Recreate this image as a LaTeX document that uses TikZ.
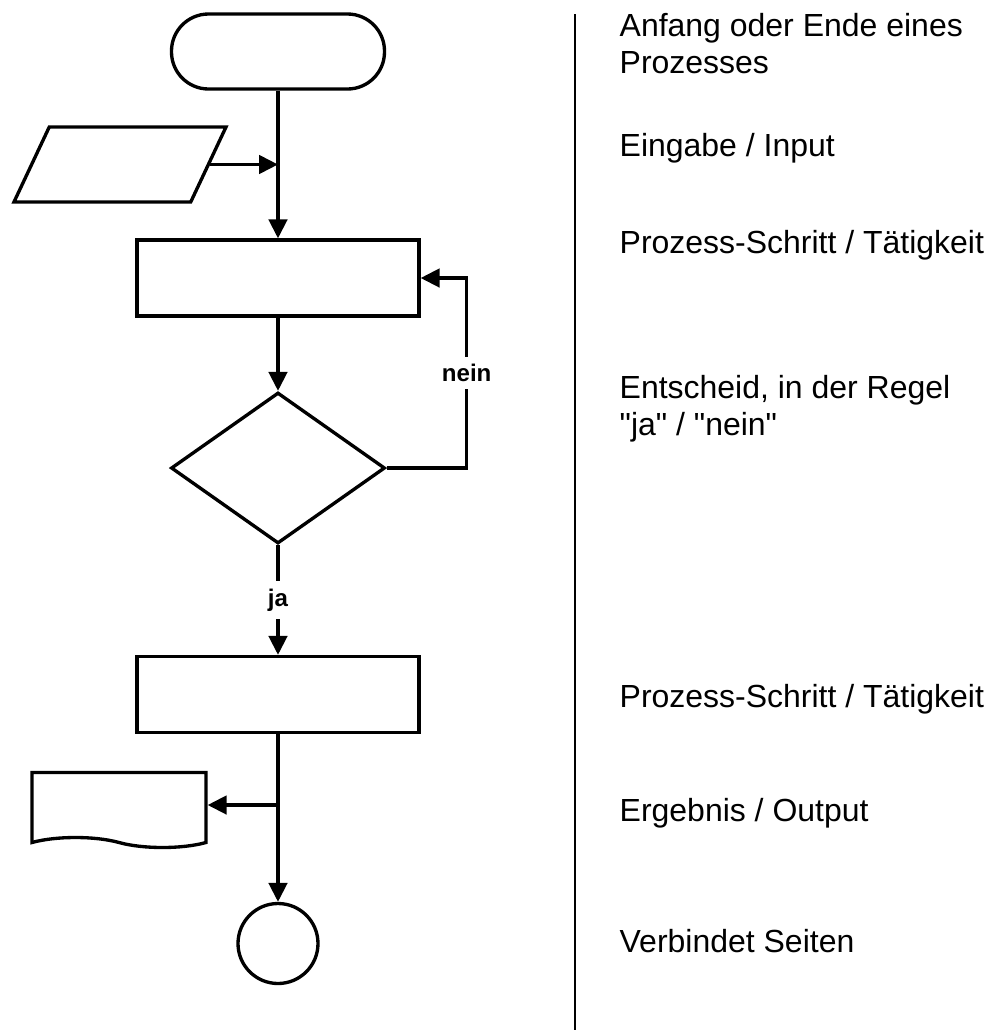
\documentclass[tikz,border=0pt]{standalone}
\usepackage{fontspec}
\setmainfont{Liberation Sans}
\usetikzlibrary{arrows.meta, positioning, shapes.geometric, shapes.symbols}

\begin{document}
\begin{tikzpicture} [line width=1.9pt,
                on grid,
                flow/.style = {-{Triangle[length=0.38cm, width=0.37cm]}},
                startstop/.style = {draw, rectangle, rounded corners=0.74cm,
                    minimum width=4.26cm, minimum height=1.5cm},
                io/.style = {draw, trapezium, trapezium left angle=76,
                    trapezium right angle=104, trapezium stretches=true,
                    minimum width=4.24cm, minimum height=1.5cm},
                process/.style = {draw, rectangle,
                    minimum width=5.64cm, minimum height=1.52cm},
                decision/.style = {draw, diamond, inner sep=0pt,
                    minimum width=4.28cm, minimum height=3.02cm},
                document/.style = {draw, tape, tape bend top=none,
                    tape bend bottom=out and in, tape bend height=0.2cm,
                    minimum width=3.48cm, minimum height=1.5cm},
                connector/.style = {draw, circle, minimum size=1.6cm},
                answer/.style = {fill=white, inner sep=0.15cm,
                    font=\fontsize{13.7pt}{16pt}\selectfont\bfseries},
                legend/.style = {anchor=base west, align=left, inner sep=0pt,
                    font=\fontsize{18.2pt}{20.5pt}\selectfont}]

            \useasboundingbox (0,0) rectangle (19.82,-20.6);

            % Start
            \node (start) [startstop] at (5.56,-1.03) {};

            % Input
            \node (input) [io,
                below left = 2.26cm and 3.16cm of start] {};

            % Process step 1
            \node (proc1) [process,
                below = 4.53cm of start] {};

            % Decision
            \node (dec) [decision,
                below = 3.8cm of proc1] {};

            % Process step 2
            \node (proc2) [process,
                below = 4.53cm of dec] {};

            % Output
            \node (output) [document,
                below left = 2.21cm and 3.18cm of proc2] {};

            % Connector
            \node (conn) [connector,
                below = 4.98cm of proc2] {};

            % Arrows
            \draw [flow] (start) -- (proc1);
            \draw [flow] (input.east) -- (input.east -| start.south);
            \draw [flow] (proc1) -- (dec);
            \draw [flow] (dec.east) -- ++(1.6,0)
                |- node[pos=0.25, answer] {nein} (proc1.east);
            \draw [flow] (dec) -- node[answer] {ja} (proc2);
            \draw [flow] (proc2) -- (conn);
            \draw [flow] (proc2.south |- output.east) -- (output.east);

            % Separator
            \coordinate (sepTop) at (11.5,-0.28);
            \coordinate (sepBot) at (11.5,-20.6);
            \draw [line width=0.75pt] (sepTop) -- (sepBot);

            % Legend
            \node (lgStart) [legend] at (12.36,-1.46) {Anfang oder Ende eines\\Prozesses};
            \node (lgInput) [legend] at (12.36,-3.12) {Eingabe / Input};
            \node (lgProc1) [legend] at (12.36,-5.06) {Prozess-Schritt / Tätigkeit};
            \node (lgDec) [legend] at (12.36,-8.70) {Entscheid, in der Regel\\\textquotedbl ja\textquotedbl{} / \textquotedbl nein\textquotedbl};
            \node (lgProc2) [legend] at (12.36,-14.14) {Prozess-Schritt / Tätigkeit};
            \node (lgOutput) [legend] at (12.36,-16.42) {Ergebnis / Output};
            \node (lgConn) [legend] at (12.36,-19.04) {Verbindet Seiten};
\end{tikzpicture}
\end{document}
